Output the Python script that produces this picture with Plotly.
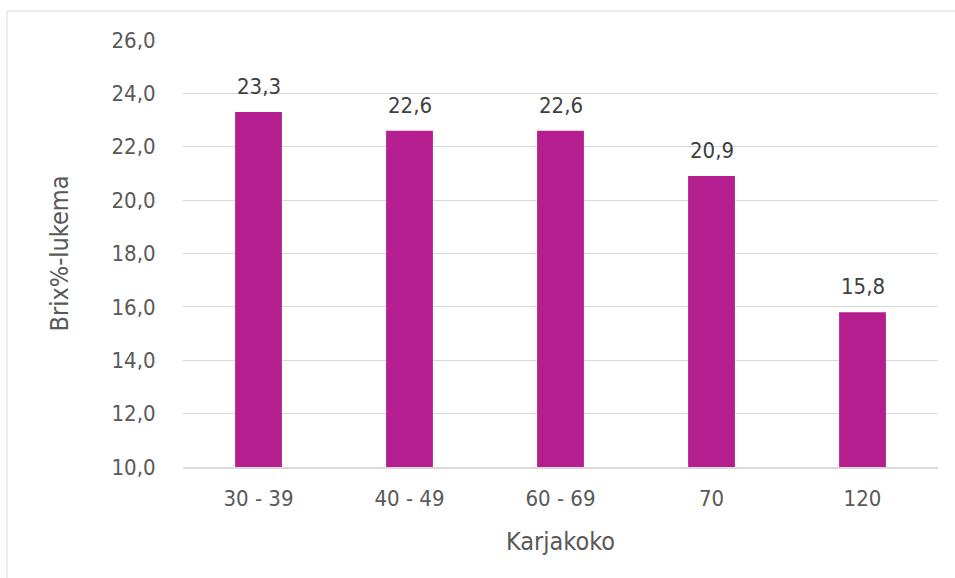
import plotly.graph_objects as go

categories = ["30 - 39", "40 - 49", "60 - 69", "70", "120"]
brix = [23.3, 22.6, 22.6, 20.9, 15.8]
y_ticks = [10, 12, 14, 16, 18, 20, 22, 24, 26]
y_tick_labels = ["10,0", "12,0", "14,0", "16,0", "18,0", "20,0", "22,0", "24,0", "26,0"]

bar_color = "#B41E8E"
text_color = "#595959"
label_color = "#404040"
grid_color = "#D9D9D9"
font_family = "DejaVu Sans Condensed, DejaVu Sans, Verdana, sans-serif"


def fmt(v):
    return f"{v:.1f}".replace(".", ",")


fig = go.Figure(
    go.Bar(
        x=categories,
        y=brix,
        marker=dict(color=bar_color, line=dict(width=0)),
        width=0.31,
        hoverinfo="x+y",
    )
)

# value labels above each bar (positioned by category index)
for i, val in enumerate(brix):
    fig.add_annotation(
        x=i, y=val, text=fmt(val), showarrow=False,
        yanchor="bottom", yshift=11,
        font=dict(size=22, color=label_color, family=font_family),
    )

fig.update_layout(
    width=955,
    height=578,
    margin=dict(l=183, r=17, t=40, b=111),
    paper_bgcolor="white",
    plot_bgcolor="white",
    showlegend=False,
    font=dict(family=font_family, color=text_color, size=22),
    shapes=[
        dict(
            type="rect", xref="paper", yref="paper",
            x0=-176 / 755, x1=1.2, y0=-0.5, y1=1 + 29 / 427,
            line=dict(color=grid_color, width=1), fillcolor="rgba(0,0,0,0)",
            layer="below",
        )
    ],
)

fig.update_yaxes(
    range=[10, 26],
    tickvals=y_ticks,
    ticktext=y_tick_labels,
    showgrid=True,
    gridcolor=grid_color,
    gridwidth=1,
    zeroline=False,
    showline=False,
    ticks="outside",
    ticklen=22,
    tickcolor="rgba(0,0,0,0)",
    tickfont=dict(size=22, color=text_color),
    title=dict(text="Brix%-lukema", font=dict(size=25, color=text_color), standoff=35),
)

fig.update_xaxes(
    type="category",
    categoryorder="array",
    categoryarray=categories,
    range=[-0.5, len(categories) - 0.5],
    showgrid=False,
    showline=True,
    linecolor=grid_color,
    linewidth=1.5,
    ticks="outside",
    ticklen=11,
    tickcolor="rgba(0,0,0,0)",
    tickfont=dict(size=22, color=text_color),
    title=dict(text="Karjakoko", font=dict(size=25, color=text_color), standoff=22),
)

fig.write_html("out.html")
